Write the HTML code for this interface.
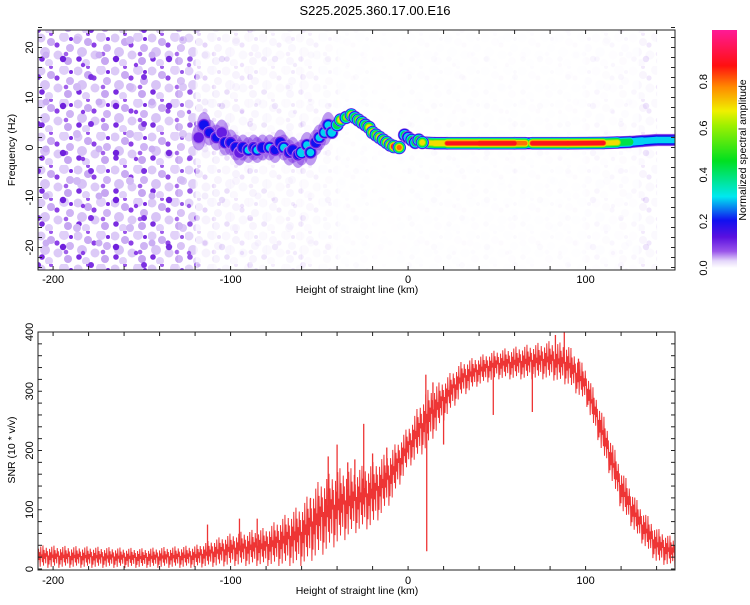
<!DOCTYPE html>
<html><head><meta charset="utf-8">
<style>
html,body{margin:0;padding:0;background:#fff;}
svg text{font-family:"Liberation Sans",sans-serif;fill:#000;}
</style></head>
<body>
<svg id="chart" width="750" height="600" viewBox="0 0 750 600" xmlns="http://www.w3.org/2000/svg">
<defs>
<clipPath id="clipTop"><rect x="38" y="30" width="637" height="240"/></clipPath>
<clipPath id="clipBot"><rect x="38" y="332" width="637" height="238"/></clipPath>
<pattern id="speckle" width="37" height="33" patternUnits="userSpaceOnUse">
<circle cx="4" cy="5" r="4.5" fill="#dccaf7"/><circle cx="14" cy="9" r="4" fill="#c9abf2"/>
<circle cx="27" cy="4" r="5" fill="#e0d0f9"/><circle cx="33" cy="15" r="4" fill="#cfb4f4"/>
<circle cx="8" cy="19" r="5" fill="#d8c4f6"/><circle cx="21" cy="22" r="4.5" fill="#dccaf7"/>
<circle cx="31" cy="28" r="4" fill="#c6a6f1"/><circle cx="12" cy="30" r="4" fill="#e0d0f9"/>
<circle cx="20" cy="12" r="2.6" fill="#8c40e6"/><circle cx="5" cy="26" r="2.8" fill="#7a2ce0"/>
<circle cx="29" cy="21" r="2.3" fill="#a060ea"/><circle cx="34" cy="6" r="2" fill="#7a2ce0"/>
<circle cx="14" cy="1" r="2" fill="#9a54ea"/>
</pattern>
<pattern id="speckle2" width="53" height="47" patternUnits="userSpaceOnUse">
<circle cx="10" cy="12" r="3.2" fill="#6f20dc"/><circle cx="38" cy="30" r="3" fill="#7c30e2"/>
<circle cx="24" cy="40" r="4" fill="#d2baf5"/><circle cx="46" cy="8" r="3.5" fill="#caaef3"/>
<circle cx="30" cy="18" r="2.2" fill="#8a3ee6"/>
</pattern>
<linearGradient id="cbGrad" x1="0" y1="1" x2="0" y2="0">
<stop offset="0" stop-color="#ffffff"/><stop offset="0.03" stop-color="#e4d6fa"/>
<stop offset="0.07" stop-color="#9a55ea"/><stop offset="0.13" stop-color="#5a10e0"/>
<stop offset="0.2" stop-color="#1010f0"/><stop offset="0.3" stop-color="#00e8f0"/>
<stop offset="0.45" stop-color="#00e020"/><stop offset="0.6" stop-color="#a0f000"/>
<stop offset="0.66" stop-color="#f0f000"/><stop offset="0.76" stop-color="#ff8a00"/>
<stop offset="0.85" stop-color="#ff1010"/><stop offset="1" stop-color="#ff1a96"/>
</linearGradient>
</defs>
<text x="375" y="15" font-size="13" text-anchor="middle">S225.2025.360.17.00.E16</text>
<g id="topPanel"></g>
<g id="botPanel"></g>
<g id="cbarPanel"></g>
</svg>
<script>
// ---- data ----
const noiseBinsX = [-210,-200,-190,-180,-170,-160,-150,-140,-130,-120,-110,-100,-90,-80,-70,-60,-50,-40,-20,0,20,60,100,130,140];
const noiseDensity = [1,1,1,1,1,1,1,0.95,0.8,0.22,0.15,0.14,0.12,0.1,0.1,0.08,0.05,0.02,0.01,0.02,0.02,0.02,0.04,0.12,0.3];
const blobX = [-118,-115,-112,-108,-105,-103,-100,-97,-95,-93,-90,-87,-85,-82,-78,-75,-72,-70,-67,-65,-62,-60,-57,-55,-52,-50,-47,-45,-43,-40,-38,-35,-32,-30,-28,-26,-24,-22,-20,-18,-16,-14,-12,-10,-8,-5,-2,0,2,4,6,8];
const blobF = [2,4.5,3,2,3,1,1,0,-1,0,-0.5,0,-0.5,0,0,-0.5,1,0,-1,-0.5,-1.5,-1,0.5,-1,1,2,3,4.5,3,4.5,5.5,6,6.5,6,5.5,5,4.5,4,3,2.5,2,1.5,1,0.5,0.2,0,2.5,2,1.5,1,1.5,1];
const blobA = [0.15,0.25,0.2,0.2,0.15,0.25,0.2,0.25,0.15,0.25,0.3,0.2,0.3,0.25,0.3,0.2,0.25,0.3,0.2,0.25,0.2,0.4,0.3,0.3,0.25,0.3,0.35,0.3,0.35,0.55,0.75,0.6,0.8,0.6,0.7,0.7,0.6,0.75,0.8,0.7,0.8,0.7,0.8,0.85,0.9,0.8,0.5,0.4,0.55,0.5,0.6,0.7];
const lineX = [8,15,22,40,60,66,68,70,90,110,118,125,132,140,151];
const lineF = [1,0.85,0.85,0.85,0.85,0.85,0.85,0.85,0.85,0.9,1,1.1,1.3,1.5,1.5];
const lineA = [0.7,0.75,0.86,0.88,0.88,0.8,0.45,0.88,0.9,0.88,0.7,0.5,0.35,0.3,0.3];
const snrX = [-209,-180,-150,-120,-100,-80,-60,-50,-40,-30,-20,-10,0,10,20,30,40,50,60,70,80,90,100,110,120,130,140,151];
const snrLow = [2,2,2,2,5,5,5,20,40,60,70,110,170,200,250,290,310,320,320,320,320,310,280,190,100,50,10,2];
const snrHigh = [40,38,35,40,60,70,110,150,170,170,180,200,240,300,320,350,360,370,375,380,385,380,340,260,170,110,70,50];
const spikeX = [-113,-95,-85,-55,-45,-40,-34,-30,-25,-20,-12,10,10.5,14,20,48,70,83,88,96];
const spikeV = [75,85,85,120,190,210,180,185,245,195,205,328,30,315,210,260,265,395,400,355];
const xTicks = [-200,-100,0,100];
const fTicks = [-20,-10,0,10,20];
const snrTicks = [0,100,200,300,400];
const cbTicks = [0.0,0.2,0.4,0.6,0.8];

// ---- scales ----
const xs = km => 38 + (km + 208.5) * 1.775;
const yf = f => 147.5 - f * 5;
const ys = v => 569 - v * 0.5925;
const cbY = a => 268 - a * 233;
const NS = "http://www.w3.org/2000/svg";
function mk(tag, attrs, parent){const e=document.createElementNS(NS,tag);for(const k in attrs)e.setAttribute(k,attrs[k]);parent.appendChild(e);return e;}
const stops=[[0,[255,255,255]],[0.03,[228,214,250]],[0.07,[154,85,234]],[0.13,[90,16,224]],[0.2,[16,16,240]],[0.3,[0,232,240]],[0.45,[0,224,32]],[0.6,[160,240,0]],[0.66,[240,240,0]],[0.76,[255,138,0]],[0.85,[255,16,16]],[1,[255,26,150]]];
function cmap(a){for(let i=1;i<stops.length;i++){if(a<=stops[i][0]){const t=(a-stops[i-1][0])/(stops[i][0]-stops[i-1][0]);const c=stops[i-1][1].map((v,j)=>Math.round(v+(stops[i][1][j]-v)*t));return `rgb(${c})`;}}return 'rgb(255,26,150)';}
const levels=[0.04,0.1,0.18,0.27,0.4,0.55,0.66,0.76,0.84];

const topG=document.getElementById('topPanel'), botG=document.getElementById('botPanel'), cbG=document.getElementById('cbarPanel');
// ---- top panel ----
const tg=mk('g',{'clip-path':'url(#clipTop)'},topG);
for(let i=0;i<noiseBinsX.length-1;i++){
  const w=xs(noiseBinsX[i+1])-xs(noiseBinsX[i])+0.5;
  const r=mk('rect',{x:xs(noiseBinsX[i]),y:30,width:w,height:240,fill:'url(#speckle)',opacity:noiseDensity[i]},tg);
  
  
  const r2=mk('rect',{x:xs(noiseBinsX[i]),y:30,width:w,height:240,fill:'url(#speckle2)',opacity:noiseDensity[i]},tg);
  
  
}
for(let i=0;i<blobX.length;i++){
  if(blobX[i]>-45) continue;
  const e=mk('ellipse',{cx:xs(blobX[i]),cy:yf(blobF[i]),rx:7,ry:13,fill:'#8038e4',opacity:0.5},tg);
  
  
}
for(const l of levels){
  for(let i=0;i<lineX.length-1;i++){
    const a=Math.min(lineA[i],lineA[i+1]);
    if(l>=a) continue;
    const s=Math.sqrt(1-l/(a+0.06));
    const seg=mk('line',{x1:xs(lineX[i]),y1:yf(lineF[i]),x2:xs(lineX[i+1]),y2:yf(lineF[i+1]),stroke:cmap(l+0.02),'stroke-width':Math.max(1.5,13*s),'stroke-linecap':'round'},tg);
    
    
  }
}
for(let i=0;i<blobX.length;i++){
  const g=mk('g',{},tg);
  
  
  const a=blobA[i];
  for(const l of levels){
    if(l>=a) continue;
    const s=Math.sqrt(1-l/(a+0.08));
    mk('ellipse',{cx:xs(blobX[i]),cy:yf(blobF[i]),rx:Math.max(1.6,7*s),ry:Math.max(1.6,7*s),fill:cmap(l+0.02)},g);
  }
}
mk('rect',{x:38,y:30,width:637,height:240,fill:'none',stroke:'#222','stroke-width':1},topG);
function xAxis(parent,y0,y1,labY,labelY){
  for(let k=-200;k<=150;k+=20){const x=xs(k);mk('line',{x1:x,y1:y1,x2:x,y2:y1-4,stroke:'#222'},parent);mk('line',{x1:x,y1:y0,x2:x,y2:y0+4,stroke:'#222'},parent);}
  for(const t of xTicks){const tx=mk('text',{x:xs(t),y:labY,'font-size':11,'text-anchor':'middle'},parent);tx.textContent=t;}
  const xl=mk('text',{x:357,y:labelY,'font-size':10.5,'text-anchor':'middle'},parent);xl.textContent='Height of straight line (km)';
  
}
xAxis(topG,30,270,283,293);
for(let f=-24;f<=24;f+=2){const y=yf(f);mk('line',{x1:38,y1:y,x2:42,y2:y,stroke:'#222'},topG);mk('line',{x1:675,y1:y,x2:671,y2:y,stroke:'#222'},topG);}
for(const t of fTicks){const tx=mk('text',{x:0,y:0,'font-size':11,'text-anchor':'middle',transform:`translate(33,${yf(t)}) rotate(-90)`},topG);tx.textContent=t;}
const yl=mk('text',{x:0,y:0,'font-size':10.5,'text-anchor':'middle',transform:'translate(15,150) rotate(-90)'},topG);yl.textContent='Frequency (Hz)';


// ---- bottom panel ----
const bg=mk('g',{'clip-path':'url(#clipBot)'},botG);
function interp(arrX,arrY,x){for(let i=1;i<arrX.length;i++){if(x<=arrX[i]){const t=(x-arrX[i-1])/(arrX[i]-arrX[i-1]);return arrY[i-1]+(arrY[i]-arrY[i-1])*t;}}return arrY[arrY.length-1];}
const jag=[0.15,0.85,0.35,0.7,0.05,0.95,0.45,0.6,0.25,1,0.1,0.8,0.4,0.65,0.2,0.9,0.5,0.75,0,0.55];
let tp=[];let n=0;
for(let px=38;px<=676;px+=0.55){
  const km=(px-38)/1.775-208.5;
  const lo=interp(snrX,snrLow,km), hi=interp(snrX,snrHigh,km);
  const f=jag[n%jag.length]; n++;
  tp.push(px.toFixed(2)+','+ys(lo+(hi-lo)*f).toFixed(2));
}
const trace=mk('polyline',{points:tp.join(' '),fill:'none',stroke:'#ee3535','stroke-width':1},bg);

for(let i=0;i<spikeX.length;i++){
  const mid=(interp(snrX,snrLow,spikeX[i])+interp(snrX,snrHigh,spikeX[i]))/2;
  const sp=mk('line',{x1:xs(spikeX[i]),y1:ys(mid),x2:xs(spikeX[i]),y2:ys(spikeV[i]),stroke:'#ee3535','stroke-width':1.3},bg);
  
}
mk('rect',{x:38,y:332,width:637,height:238,fill:'none',stroke:'#222','stroke-width':1},botG);
xAxis(botG,332,570,584,594);
for(let v=0;v<=400;v+=20){const y=ys(v);mk('line',{x1:38,y1:y,x2:42,y2:y,stroke:'#222'},botG);mk('line',{x1:675,y1:y,x2:671,y2:y,stroke:'#222'},botG);}
for(const t of snrTicks){const tx=mk('text',{x:0,y:0,'font-size':11,'text-anchor':'middle',transform:`translate(33,${ys(t)}) rotate(-90)`},botG);tx.textContent=t;}
const y2=mk('text',{x:0,y:0,'font-size':10.5,'text-anchor':'middle',transform:'translate(15,450) rotate(-90)'},botG);y2.textContent='SNR (10 * v/v)';


// ---- colorbar ----
mk('rect',{x:712,y:30,width:25,height:238,fill:'url(#cbGrad)'},cbG);
for(const t of cbTicks){const tx=mk('text',{x:0,y:0,'font-size':11,'text-anchor':'middle',transform:`translate(707,${cbY(t)}) rotate(-90)`},cbG);tx.textContent=t.toFixed(1);}
const cl=mk('text',{x:0,y:0,'font-size':10.5,'text-anchor':'middle',transform:'translate(746,150) rotate(-90)'},cbG);cl.textContent='Normalized spectral amplitude';

</script>
</body></html>
